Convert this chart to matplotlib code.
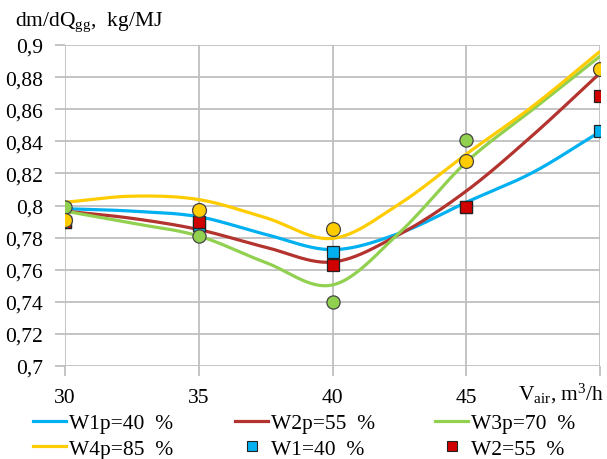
import numpy as np
import matplotlib
matplotlib.use('Agg')
import matplotlib.pyplot as plt
from matplotlib.lines import Line2D

plt.rcParams['font.family'] = ['Liberation Serif', 'DejaVu Serif']
plt.rcParams['mathtext.fontset'] = 'custom'
plt.rcParams['mathtext.rm'] = 'Liberation Serif'
plt.rcParams['mathtext.it'] = 'Liberation Serif:italic'

# ---------------- data ----------------
V_air = [30, 35, 40, 45, 50]
curve_x = [30, 32.5, 35, 37.5, 40, 42.5, 45, 47.5, 50]

W1p = [0.798, 0.7965, 0.793, 0.782, 0.7725, 0.7827, 0.802, 0.8207, 0.846]
W2p = [0.7965, 0.792, 0.785, 0.774, 0.7648, 0.782, 0.809, 0.844, 0.8825]
W3p = [0.7965, 0.789, 0.781, 0.7645, 0.7505, 0.783, 0.827, 0.860, 0.893]
W4p = [0.802, 0.8058, 0.8037, 0.7924, 0.7795, 0.801, 0.832, 0.862, 0.896]

W1 = [0.790, 0.788, 0.771, 0.799, 0.8466]
W2 = [0.790, 0.7897, 0.7632, 0.7992, 0.8684]
W3 = [0.7992, 0.781, 0.740, 0.841, 0.885]
W4 = [0.791, 0.797, 0.7856, 0.8278, 0.885]

curve_labels = ['W1p=40  %', 'W2p=55  %', 'W3p=70  %', 'W4p=85  %']
point_labels = ['W1=40  %', 'W2=55  %', 'W3=70  %', 'W4=85  %']
y_ticks = [0.70, 0.72, 0.74, 0.76, 0.78, 0.80, 0.82, 0.84, 0.86, 0.88, 0.90]
x_ticks = [30, 35, 40, 45, 50]

# ---------------- style ----------------
C_BLUE = '#00B0F0'
C_RED = '#B3332F'
C_GREEN = '#92D050'
C_YELLOW = '#FFCC00'
C_SQ_RED = '#D00000'
GRID = '#BFBFBF'
FS = 15.5


def smooth(xs, ys, n=40):
    """Excel-like smoothed line (Catmull-Rom through the given points)."""
    xs = np.asarray(xs, float)
    ys = np.asarray(ys, float)
    px = np.concatenate([[2 * xs[0] - xs[1]], xs, [2 * xs[-1] - xs[-2]]])
    py = np.concatenate([[2 * ys[0] - ys[1]], ys, [2 * ys[-1] - ys[-2]]])
    ox, oy = [], []
    for i in range(1, len(px) - 2):
        t = np.linspace(0, 1, n, endpoint=(i == len(px) - 3))
        h00 = 2 * t**3 - 3 * t**2 + 1
        h10 = t**3 - 2 * t**2 + t
        h01 = -2 * t**3 + 3 * t**2
        h11 = t**3 - t**2
        mx0 = (px[i + 1] - px[i - 1]) / 2
        mx1 = (px[i + 2] - px[i]) / 2
        my0 = (py[i + 1] - py[i - 1]) / 2
        my1 = (py[i + 2] - py[i]) / 2
        ox.append(h00 * px[i] + h10 * mx0 + h01 * px[i + 1] + h11 * mx1)
        oy.append(h00 * py[i] + h10 * my0 + h01 * py[i + 1] + h11 * my1)
    return np.concatenate(ox), np.concatenate(oy)


W, H = 607, 460
fig = plt.figure(figsize=(W / 100, H / 100), dpi=100)
ax = fig.add_axes([65 / W, 1 - 367 / H, 535 / W, 321 / H])

lw = 2.3
for ys, c in [(W1p, C_BLUE), (W2p, C_RED), (W3p, C_GREEN), (W4p, C_YELLOW)]:
    sx, sy = smooth(curve_x, ys)
    ax.plot(sx, sy, color=c, lw=lw, zorder=3, solid_capstyle='butt')

ax.plot(V_air, W1, ls='none', marker='s', ms=9, mfc=C_BLUE, mec='#222222', mew=0.9, zorder=4)
ax.plot(V_air, W2, ls='none', marker='s', ms=9, mfc=C_SQ_RED, mec='#222222', mew=0.9, zorder=5)
ax.plot(V_air, W3, ls='none', marker='o', ms=9.5, mfc=C_GREEN, mec='#444444', mew=0.9, zorder=6)
ax.plot(V_air, W4, ls='none', marker='o', ms=10, mfc=C_YELLOW, mec='#444444', mew=0.9, zorder=7)

ax.set_xlim(30, 50)
ax.set_ylim(0.70, 0.90)
ax.set_xticks(x_ticks)
ax.set_xticklabels([str(v) if v != 50 else '' for v in x_ticks])
ax.set_yticks(y_ticks)


def fmt(v):
    s = f'{v:.2f}'
    if s.endswith('0'):
        s = s[:-1]
    return s.replace('.', ',')


ax.set_yticklabels([fmt(v) for v in y_ticks])
for sp in ax.spines.values():
    sp.set_visible(False)
ax.grid(True, color=GRID, lw=1.3, zorder=0)
ax.set_axisbelow(True)
ax.tick_params(axis='both', colors=GRID, length=7, width=1.3, labelcolor='black', labelsize=FS)
ax.tick_params(axis='y', pad=9)
ax.tick_params(axis='x', pad=9)

# axis titles
fig.text(15 / W, 1 - 22 / H, r'dm/dQ$_{\mathrm{gg}}$,  kg/MJ', ha='left', va='center', fontsize=FS)
fig.text(604 / W, 1 - 394 / H, r'V$_{\mathrm{air}}$, m$^{\mathrm{3}}$/h', ha='right', va='center', fontsize=FS)


# legend (three columns)
def lh(c):
    return Line2D([], [], color=c, lw=lw)


def mh(fc):
    return Line2D([], [], ls='none', marker='s', ms=7, mfc=fc, mec='#222222', mew=0.8)


cols = [
    ([lh(C_BLUE), lh(C_YELLOW)], [curve_labels[0], curve_labels[3]], 33),
    ([lh(C_RED), mh(C_BLUE)], [curve_labels[1], point_labels[0]], 235),
    ([lh(C_GREEN), mh(C_SQ_RED)], [curve_labels[2], point_labels[1]], 435),
]
for hs, ls_, x0 in cols:
    fig.legend(hs, ls_, loc='upper left', bbox_to_anchor=(x0 / W, 1 - 414 / H),
               frameon=False, fontsize=FS, handlelength=1.55, handletextpad=0.12,
               borderpad=0, borderaxespad=0, labelspacing=0.26)

fig.savefig('out.png', dpi=100)
